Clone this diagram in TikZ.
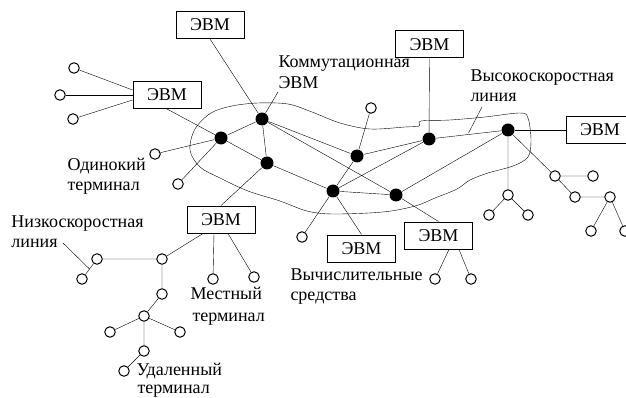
\documentclass[tikz,border=0pt]{standalone}
\usepackage{fontspec}
\setmainfont{Liberation Serif}
\usetikzlibrary{backgrounds,calc}
\tikzset{
  hub/.style={circle,fill=black,minimum size=13pt,inner sep=0pt},
  term/.style={circle,draw,fill=white,minimum size=10.5pt,inner sep=0pt},
  evm/.style={draw,fill=white,minimum width=68pt,minimum height=27pt,inner sep=0pt,font=\fontsize{18}{20}\selectfont},
  lbl/.style={anchor=base west,inner sep=0pt,font=\fontsize{18}{20}\selectfont},
  ln/.style={line width=1pt}
}
\begin{document}
\begin{tikzpicture}[x=1pt,y=-1pt,ln]
\useasboundingbox (0,0) rectangle (626,398);
\clip (0,0) rectangle (626,398);
% hubs
\node[hub] (A) at (221,138) {};
\node[hub] (B) at (262,119) {};
\node[hub] (C) at (267,163) {};
\node[hub] (D) at (357,156) {};
\node[hub] (E) at (429,139) {};
\node[hub] (F) at (508,130) {};
\node[hub] (G) at (333,191) {};
\node[hub] (H) at (396,195) {};
% computers
\node[evm] (tb) at (210,25) {ЭВМ};
\node[evm] (lb) at (167,95) {ЭВМ};
\node[evm] (eb) at (429.5,44.5) {ЭВМ};
\node[evm] (rb) at (600,130) {ЭВМ};
\node[evm] (bl) at (221,219.5) {ЭВМ};
\node[evm] (vb) at (361.5,248.5) {ЭВМ};
\node[evm] (hb) at (438.5,235.5) {ЭВМ};
% terminals
\node[term] (w1) at (74,68) {};
\node[term] (w2) at (60,95) {};
\node[term] (w3) at (73,119) {};
\node[term] (w4) at (155,154) {};
\node[term] (w5) at (178,184) {};
\node[term] (w6) at (371,108) {};
\node[term] (w7) at (302,237) {};
\node[term] (w8) at (435,279) {};
\node[term] (w9) at (471,279) {};
\node[term] (f1) at (508,195) {};
\node[term] (f2) at (489,215) {};
\node[term] (f3) at (528,215) {};
\node[term] (f4) at (555,176) {};
\node[term] (f5) at (593,176) {};
\node[term] (f6) at (575,197) {};
\node[term] (f7) at (610,197) {};
\node[term] (f8) at (591,231) {};
\node[term] (f9) at (625,231) {};
\node[term] (t1) at (162,259) {};
\node[term] (t2) at (97,259) {};
\node[term] (t3) at (82,279) {};
\node[term] (t4) at (213,279) {};
\node[term] (t5) at (254,277) {};
\node[term] (t6) at (162,294) {};
\node[term] (t7) at (144,316) {};
\node[term] (t8) at (110,332) {};
\node[term] (t9) at (180,332) {};
\node[term] (t10) at (144,351) {};
\node[term] (t11) at (124,371) {};
% labels
\node[lbl] (k1) at (278,68) {Коммутационная};
\node[lbl] (k2) at (278,89) {ЭВМ};
\node[lbl] (v1) at (470,82) {Высокоскоростная};
\node[lbl] (v2) at (470,102) {линия};
\node[lbl] (n1) at (11,227) {Низкоскоростная};
\node[lbl] (n2) at (11,247) {линия};
\node[lbl] (o1) at (67,171) {Одинокий};
\node[lbl] (o2) at (67,191) {терминал};
\node[lbl] (m1) at (190,299) {Местный};
\node[lbl] (m2) at (192,321) {терминал};
\node[lbl] (u1) at (136,375) {Удаленный};
\node[lbl] (u2) at (137,393) {терминал};
\node[lbl] (c1) at (290,280) {Вычислительные};
\node[lbl] (c2) at (290,300) {средства};
% pointer ends
\coordinate (kp) at (278,92);
\coordinate (hp1) at (468.5,133);
\coordinate (hp2) at (482,107);
\coordinate (np1) at (63,243);
\coordinate (np2) at (89.5,269);
\begin{scope}[on background layer]
\draw plot[smooth cycle,tension=0.55] coordinates {
 (190,150) (195,129) (211,113) (232,106) (258,103) (288,104) (312,112)
 (340,123) (370,129) (405,127) (419,126) (421,121) (450,120) (485,117)
 (520,113) (528,118) (531,140) (528,157) (513,166) (488,173) (470,180)
 (457,189) (435,198) (415,206) (383,212) (333,214) (307,211) (280,201)
 (248,191) (220,178) (200,167)};
% backbone
\draw (A) -- (B) (A) -- (C) (B) -- (C) (B) -- (D) (B) -- (H)
      (C) -- (G) (D) -- (G) (G) -- (E) (G) -- (H) (H) -- (F)
      (D) -- (E) (E) -- (F);
% computers to hubs
\draw (tb.south) -- (B);
\draw (lb.south) -- (A);
\draw (eb.south) -- (E);
\draw (F) -- (rb.west);
\draw (bl.north) -- (C);
\draw (vb.north) -- (G);
\draw (hb.north) -- (H);
% terminals
\draw (w1) -- ($(lb.west)+(0,-5)$);
\draw (w2) -- (lb.west);
\draw (w3) -- ($(lb.west)+(0,5)$);
\draw (w4) -- (A) (w5) -- (A) (w6) -- (D) (w7) -- (G);
\draw ($(hb.south)+(10.5,0)$) -- (w8);
\draw ($(hb.south)+(20.5,0)$) -- (w9);
\draw (F) -- (f1) (f1) -- (f2) (f1) -- (f3) (F) -- (f4) (f4) -- (f5)
      (f4) -- (f6) (f6) -- (f7) (f7) -- (f8) (f7) -- (f9);
\draw ($(bl.south)+(-18,0)$) -- (t1);
\draw ($(bl.south)+(-7,0)$) -- (t4);
\draw ($(bl.south)+(7,0)$) -- (t5);
\draw (t1) -- (t2) (t2) -- (t3) (t1) -- (t6) (t6) -- (t7) (t7) -- (t8)
      (t7) -- (t9) (t7) -- (t10) (t10) -- (t11);
% pointers
\draw (B) -- (kp);
\draw (hp1) -- (hp2);
\draw (np1) -- (np2);
\end{scope}
\end{tikzpicture}
\end{document}
